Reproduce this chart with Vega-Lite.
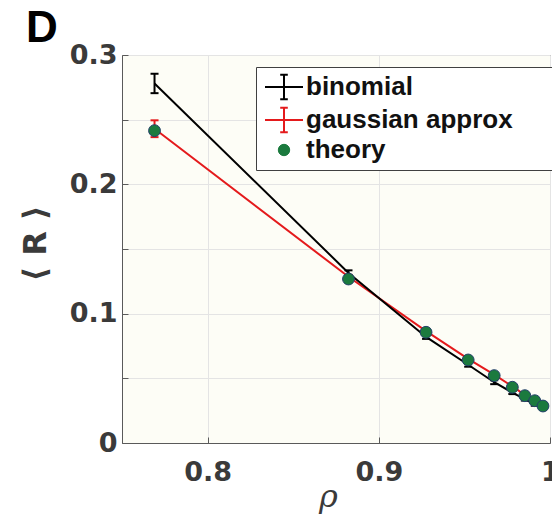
{
  "$schema": "https://vega.github.io/schema/vega-lite/v6.json",
  "autosize": "none",
  "width": 428,
  "height": 388,
  "padding": {"left": 122, "top": 55, "right": 2, "bottom": 74},
  "background": "#ffffff",
  "view": {"fill": "#fdfdf6", "stroke": "#5a5a5a", "strokeWidth": 1},
  "title": {"text": "D", "anchor": "start", "frame": "group", "font": "Liberation Sans", "fontSize": 44, "fontWeight": "bold", "color": "#000000", "dx": -96, "offset": -10},
  "data": {"values": [
    {"rho": 0.769, "R": 0.243, "lo": 0.2365, "hi": 0.2495, "series": "gaussian approx"},
    {"rho": 0.8823, "R": 0.1285, "lo": 0.127, "hi": 0.130, "series": "gaussian approx"},
    {"rho": 0.9276, "R": 0.0865, "lo": 0.0855, "hi": 0.0875, "series": "gaussian approx"},
    {"rho": 0.9522, "R": 0.065, "lo": 0.064, "hi": 0.066, "series": "gaussian approx"},
    {"rho": 0.9674, "R": 0.0528, "lo": 0.0518, "hi": 0.0538, "series": "gaussian approx"},
    {"rho": 0.978, "R": 0.0438, "lo": 0.0428, "hi": 0.0448, "series": "gaussian approx"},
    {"rho": 0.9853, "R": 0.0372, "lo": 0.0362, "hi": 0.0382, "series": "gaussian approx"},
    {"rho": 0.9911, "R": 0.0332, "lo": 0.0322, "hi": 0.0342, "series": "gaussian approx"},
    {"rho": 0.9959, "R": 0.029, "lo": 0.028, "hi": 0.030, "series": "gaussian approx"},
    {"rho": 0.769, "R": 0.278, "lo": 0.2705, "hi": 0.2855, "series": "binomial"},
    {"rho": 0.8823, "R": 0.1315, "lo": 0.1295, "hi": 0.1335, "series": "binomial"},
    {"rho": 0.9276, "R": 0.082, "lo": 0.0805, "hi": 0.0835, "series": "binomial"},
    {"rho": 0.9522, "R": 0.0605, "lo": 0.059, "hi": 0.062, "series": "binomial"},
    {"rho": 0.9674, "R": 0.047, "lo": 0.0455, "hi": 0.0485, "series": "binomial"},
    {"rho": 0.978, "R": 0.039, "lo": 0.0378, "hi": 0.0402, "series": "binomial"},
    {"rho": 0.9853, "R": 0.034, "lo": 0.0328, "hi": 0.0352, "series": "binomial"},
    {"rho": 0.9911, "R": 0.030, "lo": 0.0288, "hi": 0.0312, "series": "binomial"},
    {"rho": 0.9959, "R": 0.027, "lo": 0.0258, "hi": 0.0282, "series": "binomial"},
    {"rho": 0.769, "R": 0.2415, "series": "theory"},
    {"rho": 0.8823, "R": 0.1268, "series": "theory"},
    {"rho": 0.9276, "R": 0.0856, "series": "theory"},
    {"rho": 0.9522, "R": 0.0642, "series": "theory"},
    {"rho": 0.9674, "R": 0.0521, "series": "theory"},
    {"rho": 0.978, "R": 0.0431, "series": "theory"},
    {"rho": 0.9853, "R": 0.0366, "series": "theory"},
    {"rho": 0.9911, "R": 0.0327, "series": "theory"},
    {"rho": 0.9959, "R": 0.0286, "series": "theory"}
  ]},
  "layer": [
    {
      "transform": [{"filter": "datum.series !== 'theory'"}],
      "mark": {"type": "line", "strokeWidth": 2},
      "encoding": {
        "x": {"field": "rho", "type": "quantitative",
          "scale": {"domain": [0.75, 1], "nice": false, "zero": false},
          "axis": {"orient": "bottom", "values": [0.8, 0.9, 1], "format": "~g", "labelFlush": false,
            "grid": true, "gridColor": "#e4e4e4", "gridWidth": 1,
            "domainColor": "#5a5a5a", "domainWidth": 1, "tickColor": "#5a5a5a", "tickSize": -6, "tickWidth": 1,
            "labelFont": "DejaVu Sans", "labelFontWeight": "bold", "labelFontSize": 27, "labelColor": "#3a3a3a",
            "labelPadding": 22, "labelOverlap": false,
            "title": "ρ", "titleFont": "DejaVu Serif", "titleFontStyle": "italic", "titleFontWeight": "normal", "titleFontSize": 32, "titleColor": "#3a3a3a",
            "titleX": 206, "titleY": 63, "titleBaseline": "alphabetic", "titleAlign": "center"}},
        "y": {"field": "R", "type": "quantitative",
          "scale": {"domain": [0, 0.3], "nice": false, "zero": false},
          "axis": {"orient": "left", "values": [0, 0.05, 0.1, 0.15, 0.2, 0.25, 0.3], "format": ".2~f",
            "labelExpr": "indexof(['0','0.1','0.2','0.3'], datum.label) >= 0 ? datum.label : ''",
            "grid": true, "gridColor": "#e4e4e4", "gridWidth": 1,
            "domainColor": "#5a5a5a", "domainWidth": 1, "tickColor": "#5a5a5a", "tickSize": -6, "tickWidth": 1,
            "labelFont": "DejaVu Sans", "labelFontWeight": "bold", "labelFontSize": 27, "labelColor": "#3a3a3a",
            "labelPadding": 11, "labelOverlap": false,
            "title": "⟨ R ⟩", "titleFont": "DejaVu Sans", "titleFontWeight": "bold", "titleFontSize": 32, "titleColor": "#3a3a3a",
            "titleX": -87, "titleY": 188, "titleAngle": -90, "titleBaseline": "middle", "titleAlign": "center"}},
        "color": {"field": "series", "type": "nominal",
          "scale": {"domain": ["binomial", "gaussian approx", "theory"], "range": ["#000000", "#e41a1c", "#1b7a3e"]},
          "legend": {"title": null, "orient": "none", "legendX": 134, "legendY": 12,
            "padding": 7, "strokeColor": "#404040", "fillColor": "#ffffff",
            "symbolSize": 361, "symbolStrokeWidth": 2, "symbolOffset": 8, "labelOffset": 9, "rowPadding": -1,
            "labelFont": "Liberation Sans", "labelFontWeight": "bold", "labelFontSize": 26, "labelColor": "#111111",
            "labelLimit": 400,
            "labelExpr": "datum.label + '\u2800\u2800'",
            "encode": {"symbols": {"update": {
              "opacity": {"value": 1},
              "size": {"value": 361},
              "shape": {"signal": "datum.value === 'theory' ? 'M-0.6,0A0.6,0.6,0,1,0,0.6,0A0.6,0.6,0,1,0,-0.6,0Z' : 'M-2,0H2M0,-1.3V1.3M-0.4,-1.3H0.4M-0.4,1.3H0.4'"},
              "fill": {"signal": "datum.value === 'theory' ? '#1b7a3e' : 'transparent'"},
              "stroke": {"signal": "datum.value === 'theory' ? '#23406a' : (datum.value === 'binomial' ? '#000000' : '#e41a1c')"},
              "strokeWidth": {"signal": "datum.value === 'theory' ? 1 : 2"}
            }}}}},
        "detail": {"field": "series"}
      }
    },
    {
      "transform": [{"filter": "datum.series !== 'theory'"}],
      "mark": {"type": "rule", "strokeWidth": 2},
      "encoding": {
        "x": {"field": "rho", "type": "quantitative"},
        "y": {"field": "lo", "type": "quantitative"},
        "y2": {"field": "hi"},
        "color": {"field": "series", "type": "nominal", "legend": null}
      }
    },
    {
      "transform": [{"filter": "datum.series !== 'theory'"}],
      "mark": {"type": "point", "shape": "stroke", "filled": false, "size": 64, "strokeWidth": 2, "opacity": 1},
      "encoding": {
        "x": {"field": "rho", "type": "quantitative"},
        "y": {"field": "hi", "type": "quantitative"},
        "color": {"field": "series", "type": "nominal", "legend": null}
      }
    },
    {
      "transform": [{"filter": "datum.series !== 'theory'"}],
      "mark": {"type": "point", "shape": "stroke", "filled": false, "size": 64, "strokeWidth": 2, "opacity": 1},
      "encoding": {
        "x": {"field": "rho", "type": "quantitative"},
        "y": {"field": "lo", "type": "quantitative"},
        "color": {"field": "series", "type": "nominal", "legend": null}
      }
    },
    {
      "transform": [{"filter": "datum.series === 'theory'"}],
      "mark": {"type": "point", "shape": "circle", "filled": true, "size": 140, "fill": "#1b7a3e", "stroke": "#23406a", "strokeWidth": 1, "opacity": 1},
      "encoding": {
        "x": {"field": "rho", "type": "quantitative"},
        "y": {"field": "R", "type": "quantitative"}
      }
    }
  ]
}
